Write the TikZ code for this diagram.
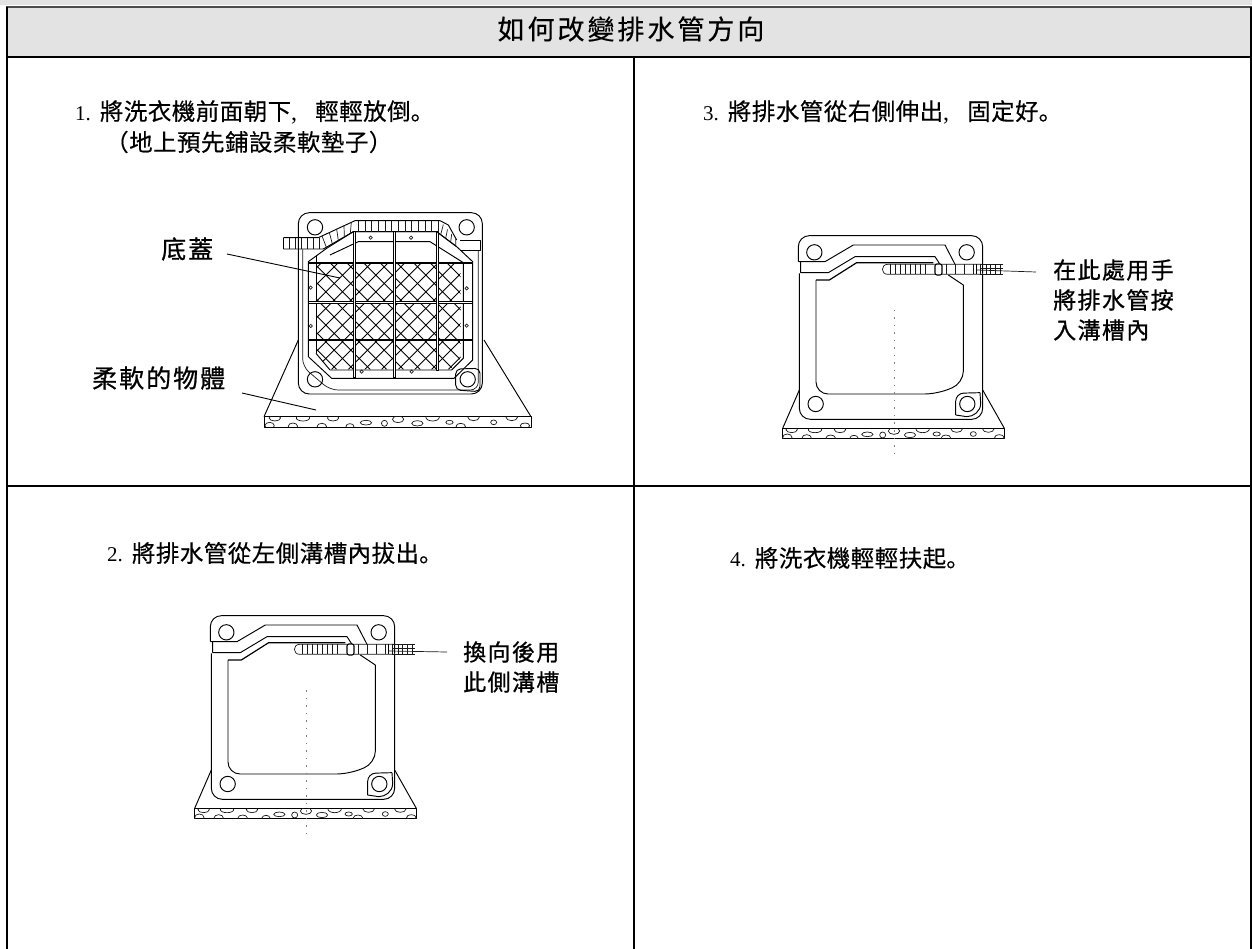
\documentclass[tikz,border=0pt]{standalone}
\usepackage{fontspec}
\setmainfont{Liberation Serif}
\newfontfamily\cjk[LetterSpace=2,FakeBold=0.35]{Noto Sans CJK TC}
\newfontfamily\cjkb[LetterSpace=6,FakeBold=0.8]{Noto Sans CJK TC}
\newfontfamily\cjkw[LetterSpace=8,FakeBold=0.8]{Noto Sans CJK TC}
\newfontfamily\cjksc[FakeBold=0.35]{Noto Sans CJK SC}
\newfontfamily\cjkt[LetterSpace=11,FakeBold=0.3]{Noto Sans CJK TC}
\newcommand{\fullmark}{{\cjksc 。}}
\newcommand{\cmm}{{\rmfamily\fontsize{24}{24}\selectfont,}\hspace{18pt}}
\newcommand{\stepnum}[1]{{\rmfamily\fontsize{21}{24}\selectfont #1.}\hspace{9pt}}
\definecolor{hdr}{HTML}{E3E3E3}
\tikzset{
  x=1pt,y=-1pt,
  ink/.style={line width=0.95pt,black,line join=round},
  thin ink/.style={line width=0.7pt,black!90},
  rule/.style={line width=1.7pt,black},
  stepnote/.style={anchor=west,inner sep=0pt,font=\cjk\fontsize{23.5}{30}\selectfont,align=left},
  labelnote/.style={anchor=west,inner sep=0pt,font=\cjkb\fontsize{23}{30}\selectfont,align=left},
  widelabel/.style={anchor=west,inner sep=0pt,font=\cjkw\fontsize{25}{30}\selectfont,align=left},
  leader/.style={line width=0.9pt,black},
  specks/.style={line width=0.7pt,black!50,dash pattern=on 1.5pt off 6pt},
}
% the foam strip: origin x0,y0, width w, in zoom units
\newcommand{\basestrip}[3]{%
  \draw[ink] (#1,#2) rectangle ++(#3,31);
  \begin{scope}
    \clip (#1,#2) rectangle ++(#3,31);
    \pgfmathsetmacro{\fr}{#3/665}
    \foreach \ea/\eb/\ec/\ed in {27/4/17/9,97/4/20/9,172/4/17/9,254/18/17/7,300/20/9/9,334/8/17/10,382/20/17/8,420/2/20/11,462/17/11/6,522/2/17/10,572/17/9/7,617/2/17/10,72/29/14/10,14/27/14/10,144/29/14/9,214/29/12/8,490/29/14/9,650/27/14/8}
      \draw[thin ink] ({#1+\ea*\fr},{#2+\eb}) ellipse ({\ec} and {\ed});
  \end{scope}
}
% side view of the machine, drawn in zoom units
\newcommand{\washerside}{%
  \draw[ink] (118,510) -- (68,625);
  \draw[ink] (668,510) -- (733,625);
  \basestrip{68}{625}{665}
  \draw[ink,fill=white,rounded corners=11pt] (118,160) -- (118,598) -- (668,598) -- (668,160);
  \draw[ink,rounded corners=11pt] (115,125) -- (115,47) -- (668,47) -- (668,160);
  \draw[ink] (115,125) -- (195,125) -- (280,75) -- (555,75) -- (585,133);
  \draw[ink] (122,125) -- (122,158) -- (205,158) -- (285,110) -- (525,110) -- (540,133);
  \draw[line width=1.2pt] (168,180) -- (208,180) -- (290,128) -- (520,128);
  \draw[ink,rounded corners=12pt] (168,180) -- (168,522) -- (530,522) -- (610,490) -- (610,195);
  \draw[ink] (610,195) -- (565,165);
  \foreach \cx/\cy in {163/97,620/97,167/552,622/552}
    \draw[ink] (\cx,\cy) circle (23);
  \draw[ink,rounded corners=8pt] (660,518) -- (587,520) -- (587,585);
  \draw[ink] (660,518) -- (662,550) .. controls (662,575) and (640,590) .. (620,590) -- (587,585);
  % hose
  \draw[thin ink] (665,133) -- (383,133) .. controls (362,133) and (362,163) .. (383,163) -- (665,163);
  \foreach \hx in {392,407,...,510}
    \draw[thin ink] (\hx,133) -- (\hx,163);
  \foreach \hx in {558,585,612,640,660}
    \draw[thin ink] (\hx,133) -- (\hx,163);
  \draw[line width=1.1pt,fill=white,rounded corners=2pt] (525,132) rectangle (546,165);
  \draw[thin ink] (660,133) -- (730,133) (660,146) -- (730,146) (660,163) -- (730,163);
  \foreach \hx in {678,692,706,722}
    \draw[thin ink] (\hx,133) -- (\hx,163);
  \draw[line width=1.1pt] (650,133) -- (650,163);
  % faint centre marks
  \draw[specks] (403,270) -- (403,715);
}
\begin{document}
\begin{tikzpicture}
\useasboundingbox (0,0) rectangle (1252,949);
% header band and table
\fill[hdr] (0,0) rectangle (1252,5);
\fill[hdr] (7,7) rectangle (1251,57);
\draw[line width=1.3pt,black!70] (6,7) -- (1252,7);
\draw[rule] (7,7) -- (7,949);
\draw[rule] (1251,7) -- (1251,949);
\draw[rule] (6,57) -- (1252,57);
\draw[rule] (634,57) -- (634,949);
\draw[rule] (6,486) -- (1252,486);
% title
\node[inner sep=0pt,font=\cjkt\fontsize{27}{30}\selectfont] (title) at (631,29) {如何改變排水管方向};
% step texts
\node[stepnote] (s1) at (75,112) {\stepnum{1}將洗衣機前面朝下\cmm 輕輕放倒\fullmark};
\node[stepnote] (s1b) at (105,142) {（地上預先鋪設柔軟墊子）};
\node[stepnote] (s2) at (107,553) {\stepnum{2}將排水管從左側溝槽內拔出\fullmark};
\node[stepnote] (s3) at (703,112) {\stepnum{3}將排水管從右側伸出\cmm 固定好\fullmark};
\node[stepnote] (s4) at (730,558) {\stepnum{4}將洗衣機輕輕扶起\fullmark};
% labels
\node[widelabel] (l1) at (161,249) {底蓋};
\node[widelabel] (l2) at (92,378) {柔軟的物體};
\node[labelnote] (l3) at (463,667) {換向後用\\此側溝槽};
\node[labelnote] (l4) at (1053,300) {在此處用手\\將排水管按\\入溝槽內};
% view 1: machine lying face-down, bottom cover visible
\begin{scope}[shift={(230,190)},scale=1/3]
  \draw[ink] (205,450) -- (102,680);
  \draw[ink] (762,450) -- (903,680);
  \basestrip{102}{680}{801}
  \draw[ink,rounded corners=11pt] (205,68) rectangle (757,612);
  \draw[thin ink,rounded corners=8pt] (218,178) -- (218,530) -- (300,600) -- (745,600) -- (745,182);
  % mesh
  \begin{scope}
    \clip (258,222) -- (692,222) -- (692,505) -- (660,538) -- (300,538) -- (258,490) -- cycle;
    \foreach \mk in {-350,-300,...,850} {
      \draw[line width=0.85pt] (\mk,218) -- ++(325,325);
      \draw[line width=0.85pt] (\mk,543) -- ++(325,-325);
    }
  \end{scope}
  % panel outline
  \draw[ink] (290,175) -- (370,125) -- (620,125) -- (680,170) -- (728,215) -- (728,510) -- (672,565) -- (305,565) -- (235,500) -- (235,215) -- cycle;
  \draw[ink] (258,195) -- (258,490);
  \draw[ink] (300,195) -- (385,155) -- (600,155) -- (700,218) -- (700,505) -- (665,540) -- (300,540) -- (258,490);
  % bars
  \draw[ink,fill=white] (235,216) rectangle (728,220);
  \draw[ink,fill=white] (235,335) rectangle (728,340);
  \draw[line width=1.3pt,fill=white] (235,448) rectangle (728,452);
  \draw[line width=1pt,fill=white] (370,125) rectangle (375,562);
  \draw[line width=1pt,fill=white] (491,125) rectangle (496,562);
  \draw[ink,fill=white] (619,125) rectangle (624,540);
  % hose
  \draw[ink] (160,143) -- (265,143) -- (375,92) -- (630,92) -- (655,105) -- (680,150);
  \draw[ink] (160,177) -- (280,177) -- (370,125) -- (620,125) -- (680,170);
  \draw[ink] (160,143) -- (160,177);
  \foreach \hx in {178,196,...,270}
    \draw[thin ink] (\hx,143) -- (\hx,177);
  \foreach \ht in {0.1,0.3,0.5,0.7,0.9}
    \draw[thin ink] ({265+\ht*110},{143-\ht*51}) -- ({280+\ht*90},{177-\ht*52});
  \foreach \hx in {385,405,...,625}
    \draw[thin ink] (\hx,92) -- (\hx,125);
  \foreach \ht in {0.2,0.45,0.7,0.95}
    \draw[thin ink] ({630+\ht*50},{92+\ht*58}) -- ({620+\ht*60},{125+\ht*45});
  \draw[ink] (690,150) -- (750,150) -- (750,182) -- (690,182);
  % circles and corner bracket
  \foreach \cx/\cy in {255/112,710/112,255/568,713/568}
    \draw[ink] (\cx,\cy) circle (23);
  \foreach \cx/\cy in {422/143,543/143,242/293,710/295,242/408,710/407,395/545,545/545}
    \draw[thin ink] (\cx,\cy) circle (5);
  \draw[ink,rounded corners=5pt] (677,600) -- (677,537) -- (750,535) -- (750,605) -- cycle;
\end{scope}
% view 3
\begin{scope}[shift={(760,220)},scale=1/3]
  \washerside
\end{scope}
% view 2
\begin{scope}[shift={(172,600)},scale=1/3]
  \washerside
\end{scope}
% leader lines
\coordinate (a1) at (227,254);
\coordinate (b1) at (340,278);
\coordinate (a2) at (242,393);
\coordinate (b2) at (316,410);
\coordinate (a3) at (389,651);
\coordinate (b3) at (447,652);
\coordinate (a4) at (977,270);
\coordinate (b4) at (1036,272);
\draw[leader] (a1) -- (b1);
\draw[leader] (a2) -- (b2);
\draw[thin ink] (a3) -- (b3);
\draw[thin ink] (a4) -- (b4);
\end{tikzpicture}
\end{document}
